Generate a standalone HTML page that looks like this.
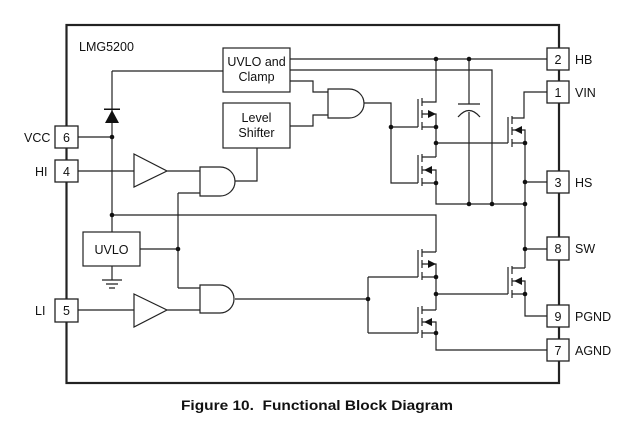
<!DOCTYPE html>
<html><head><meta charset="utf-8"><style>
html,body{margin:0;padding:0;background:#fff;}
svg{display:block;}
text{font-family:"Liberation Sans",Arial,sans-serif;fill:#111;}
</style></head><body>
<svg width="635" height="434" viewBox="0 0 635 434" xmlns="http://www.w3.org/2000/svg">
<g fill="none" stroke="#222" stroke-width="1.2">
<!-- outer box -->
<rect x="66.5" y="25" width="492.5" height="358" stroke-width="2.2"/>
</g>
<!-- pins -->
<g fill="#fff" stroke="#222" stroke-width="1.3">
<rect x="55" y="126" width="23" height="22"/>
<rect x="55" y="160" width="23" height="22"/>
<rect x="55" y="299" width="23" height="23"/>
<rect x="547" y="48" width="22" height="22"/>
<rect x="547" y="81" width="22" height="22"/>
<rect x="547" y="171" width="22" height="22"/>
<rect x="547" y="237" width="22" height="23"/>
<rect x="547" y="305" width="22" height="22"/>
<rect x="547" y="339" width="22" height="22"/>
</g>
<g font-size="12.5" text-anchor="middle">
<text x="66.5" y="142">6</text><text x="66.5" y="176">4</text><text x="66.5" y="315">5</text>
<text x="558" y="64">2</text><text x="558" y="97">1</text><text x="558" y="187">3</text>
<text x="558" y="253">8</text><text x="558" y="321">9</text><text x="558" y="355">7</text>
</g>
<g font-size="12.5">
<text x="24" y="142">VCC</text><text x="35" y="176">HI</text><text x="35" y="315">LI</text>
<text x="575" y="64">HB</text><text x="575" y="97">VIN</text><text x="575" y="187">HS</text>
<text x="575" y="253">SW</text><text x="575" y="321">PGND</text><text x="575" y="355">AGND</text>
<text x="79" y="51">LMG5200</text>
</g>
<g fill="none" stroke="#222" stroke-width="1.2">
<!-- blocks -->
<rect x="223" y="48" width="67" height="44"/>
<rect x="223" y="103" width="67" height="45"/>
<rect x="83" y="232" width="57" height="34"/>
<!-- diode line and VCC -->
<path d="M112 71H223M112 71V215M78 137H112M112 215V232M112 215H436V252"/>
<!-- ground -->
<path d="M112 266V280M102 280H122M106 284H118M109 288H115"/>
<!-- UVLO out -->
<path d="M140 249H178M178 193V288M178 193H200M178 288H200"/>
<!-- buffers -->
<path d="M78 171H134M134 154L167 171L134 187ZM167 171H200"/>
<path d="M78 310H134M134 294L167 310L134 327ZM167 310H200"/>
<!-- AND gates -->
<path d="M200 167H220A15 14.5 0 0 1 220 196H200Z"/>
<path d="M200 285H220A14 14 0 0 1 220 313H200Z"/>
<path d="M328 89H349A15 14.5 0 0 1 349 118H328Z"/>
<!-- upper and output to level shifter -->
<path d="M235 181H257V148"/>
<!-- UVLO clamp outputs -->
<path d="M290 59H547M290 70H492V204M290 81H313V92H328M290 126H313V115H328"/>
<!-- and2 output -->
<path d="M364 103H391V183H418M391 127H418"/>
<!-- lower AND output -->
<path d="M235 299H368M368 277V333M368 277H418M368 333H418"/>
<!-- high-side driver FET1 -->
<path d="M418 99V127M422 98V106M422 110V118M422 122V130M422 102H436V59M422 127H436M422 114H436V127M436 127V157"/>
<!-- FET2 -->
<path d="M418 155V183M422 154V162M422 166V174M422 178V186M422 157H436M422 183H436M422 170H436V183M436 183V204H525"/>
<!-- output node -->
<path d="M436 143H508"/>
<!-- capacitor -->
<path d="M469 59V104M458 104H480M469 112V204M458 117Q469 104 480 117"/>
<!-- big high FET -->
<path d="M508 117V143M512 116V124M512 127V135M512 139V147M512 118H524V92H547M512 143H525M512 130H525V143M525 143V268M525 182H547M525 249H547"/>
<!-- lower driver FET3 -->
<path d="M418 250V277M422 249V257M422 260V268M422 272V280M422 252H436M422 277H436M422 264H436V277M436 277V310"/>
<path d="M436 294H508"/>
<!-- FET4 -->
<path d="M418 307V333M422 306V314M422 318V326M422 330V338M422 310H436M422 333H436M422 322H436V333M436 333V350H547"/>
<!-- big low FET -->
<path d="M508 267V294M512 266V274M512 278V286M512 290V298M512 268H525M512 294H525M512 281H525V294M525 294V316H547"/>
</g>
<g fill="#111">
<!-- diode -->
<path d="M112 110L105 123H119Z"/><rect x="104" y="108.5" width="16" height="1.5"/>
<!-- arrows -->
<path d="M436 114L428 110V118Z"/>
<path d="M424 170L432 166V174Z"/>
<path d="M514 130L522 126V134Z"/>
<path d="M436 264L428 260V268Z"/>
<path d="M424 322L432 318V326Z"/>
<path d="M514 281L522 277V285Z"/>
<!-- dots -->
<circle cx="112" cy="137" r="2.3"/><circle cx="112" cy="215" r="2.3"/>
<circle cx="178" cy="249" r="2.3"/>
<circle cx="436" cy="59" r="2.3"/><circle cx="469" cy="59" r="2.3"/>
<circle cx="391" cy="127" r="2.3"/>
<circle cx="436" cy="127" r="2.3"/><circle cx="436" cy="143" r="2.3"/><circle cx="436" cy="183" r="2.3"/>
<circle cx="469" cy="204" r="2.3"/><circle cx="492" cy="204" r="2.3"/><circle cx="525" cy="204" r="2.3"/>
<circle cx="525" cy="143" r="2.3"/><circle cx="525" cy="182" r="2.3"/><circle cx="525" cy="249" r="2.3"/>
<circle cx="368" cy="299" r="2.3"/>
<circle cx="436" cy="277" r="2.3"/><circle cx="436" cy="294" r="2.3"/><circle cx="436" cy="333" r="2.3"/>
<circle cx="525" cy="294" r="2.3"/>
</g>
<g font-size="12.5" text-anchor="middle">
<text x="256.5" y="66">UVLO and</text><text x="256.5" y="81">Clamp</text>
<text x="256.5" y="122">Level</text><text x="256.5" y="137">Shifter</text>
<text x="111.5" y="254">UVLO</text>
</g>
<text x="181" y="410" font-size="14" font-weight="bold" textLength="272" lengthAdjust="spacingAndGlyphs" xml:space="preserve">Figure 10.  Functional Block Diagram</text>
</svg>
</body></html>
